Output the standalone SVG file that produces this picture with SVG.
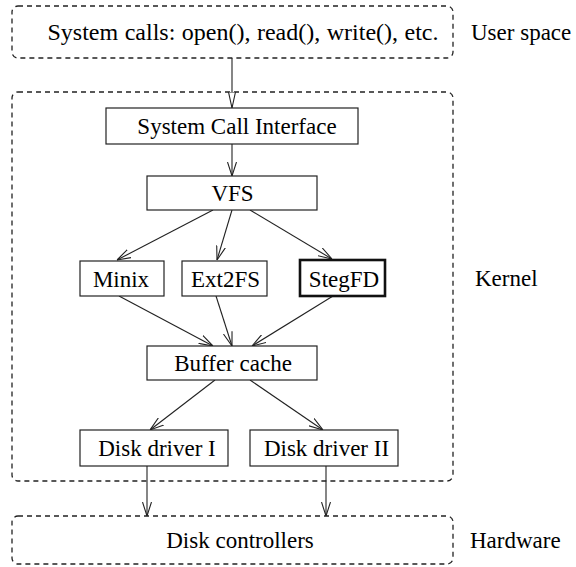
<svg xmlns="http://www.w3.org/2000/svg" width="576" height="567" viewBox="0 0 576 567">
<defs>
<style>
text{font-family:"Liberation Serif","Times New Roman",serif;font-size:23px;fill:#000;text-anchor:middle}
.lbl{text-anchor:start}
.region{fill:none;stroke:#222;stroke-width:1.3;stroke-dasharray:5 4}
.box{fill:#fff;stroke:#222;stroke-width:1.2}
.thick{fill:#fff;stroke:#111;stroke-width:2.6}
.edge{fill:none;stroke:#222;stroke-width:1.1;marker-end:url(#open)}
</style>
<marker id="open" viewBox="0 0 14 10" refX="14" refY="5" markerWidth="14" markerHeight="10" markerUnits="userSpaceOnUse" orient="auto">
<path d="M0,0.5 L14,5 L0,9.5" fill="none" stroke="#222" stroke-width="1.1"/>
</marker>
<marker id="hollow" viewBox="0 0 16 10" refX="16" refY="5" markerWidth="16" markerHeight="10" markerUnits="userSpaceOnUse" orient="auto">
<path d="M0,1.5 L16,5 L0,8.5 Z" fill="#fff" stroke="#222" stroke-width="1.1"/>
</marker>
</defs>
<rect width="576" height="567" fill="#fff"/>

<g id="user-space">
<rect class="region" x="12" y="6" width="441" height="52" rx="6"/>
<text x="243" y="40" style="font-size:24px;word-spacing:0.5px">System calls: open(), read(), write(), etc.</text>
<text class="lbl" x="471" y="40">User space</text>
</g>

<g id="kernel">
<rect class="region" x="12" y="92" width="441" height="389" rx="6"/>
<text class="lbl" x="475" y="286">Kernel</text>
</g>

<g id="hardware">
<rect class="region" x="12" y="516" width="441" height="48" rx="6"/>
<text x="240" y="548">Disk controllers</text>
<text class="lbl" x="470" y="548">Hardware</text>
</g>

<g id="connectors">
<line x1="232" y1="58" x2="232" y2="108" fill="none" stroke="#222" stroke-width="1.1" marker-end="url(#hollow)"/>
<line class="edge" x1="232" y1="144" x2="232" y2="176"/>
<line class="edge" x1="213" y1="210" x2="117" y2="260"/>
<line class="edge" x1="232" y1="210" x2="217" y2="260"/>
<line class="edge" x1="250" y1="210" x2="332" y2="259"/>
<line class="edge" x1="119" y1="296" x2="213" y2="346"/>
<line class="edge" x1="216" y1="296" x2="232" y2="346"/>
<line class="edge" x1="333" y1="296" x2="252" y2="346"/>
<line class="edge" x1="215" y1="380" x2="150" y2="430"/>
<line class="edge" x1="250" y1="380" x2="323" y2="430"/>
<line class="edge" x1="147" y1="466" x2="147" y2="516"/>
<line class="edge" x1="326" y1="466" x2="326" y2="516"/>
</g>

<g id="sci">
<rect class="box" x="106" y="108" width="252" height="36"/>
<text x="237" y="134">System Call Interface</text>
</g>
<g id="vfs">
<rect class="box" x="147" y="176" width="170" height="34"/>
<text x="232.5" y="201">VFS</text>
</g>
<g id="minix">
<rect class="box" x="80" y="261" width="84" height="35"/>
<text x="121" y="287">Minix</text>
</g>
<g id="ext2fs">
<rect class="box" x="182" y="261" width="85" height="35"/>
<text x="225.5" y="287">Ext2FS</text>
</g>
<g id="stegfd">
<rect class="thick" x="300" y="260" width="85" height="36"/>
<text x="344" y="287">StegFD</text>
</g>
<g id="buffer-cache">
<rect class="box" x="147" y="346" width="170" height="34"/>
<text x="233" y="371">Buffer cache</text>
</g>
<g id="disk-driver-1">
<rect class="box" x="80" y="430" width="148" height="36"/>
<text x="157" y="456">Disk driver I</text>
</g>
<g id="disk-driver-2">
<rect class="box" x="250" y="430" width="148" height="36"/>
<text x="326.5" y="456">Disk driver II</text>
</g>
</svg>
